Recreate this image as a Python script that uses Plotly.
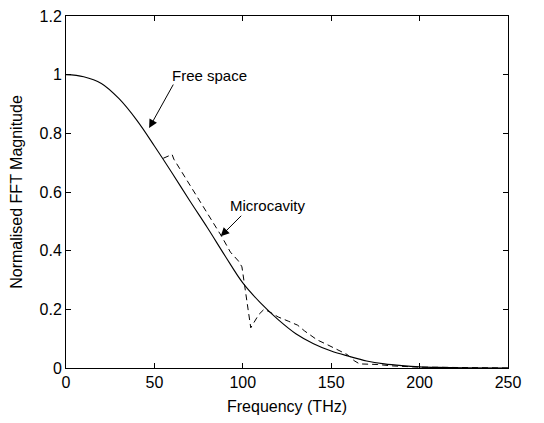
import plotly.graph_objects as go

# Free-space (solid) curve
free_f = [0, 10, 20, 30, 40, 50, 60, 70, 80, 90, 100, 110, 120, 130, 140, 150,
          160, 170, 180, 190, 200, 210, 225, 250]
free_v = [1.0, 0.993, 0.97, 0.918, 0.845, 0.757, 0.665, 0.57, 0.478, 0.382, 0.29,
          0.222, 0.165, 0.117, 0.083, 0.058, 0.04, 0.024, 0.014, 0.008, 0.004,
          0.002, 0.0005, 0.0]

# Microcavity (dashed) curve
cav_f = [55, 60, 61, 70, 80, 88, 93, 97.5, 99.5, 104.5, 109, 112, 115, 120, 126,
         131, 135, 142, 148, 155, 159, 163, 166, 176, 185, 200, 225, 250]
cav_v = [0.715, 0.728, 0.712, 0.625, 0.527, 0.449, 0.395, 0.365, 0.345, 0.137,
         0.182, 0.2, 0.192, 0.174, 0.159, 0.146, 0.126, 0.096, 0.079, 0.057,
         0.046, 0.025, 0.014, 0.012, 0.007, 0.003, 0.001, 0.0]

x_ticks = [0, 50, 100, 150, 200, 250]
y_ticks = [0, 0.2, 0.4, 0.6, 0.8, 1.0, 1.2]
y_tick_labels = ["0", "0.2", "0.4", "0.6", "0.8", "1", "1.2"]

FONT = "Liberation Sans, Arial, sans-serif"

fig = go.Figure()
fig.add_trace(go.Scatter(x=free_f, y=free_v, mode="lines", line=dict(color="black", width=1.1),
                         line_shape="spline", showlegend=False))
fig.add_trace(go.Scatter(x=cav_f, y=cav_v, mode="lines",
                         line=dict(color="black", width=1, dash="6px,4px"), showlegend=False))

# arrows (tail offsets in pixels from the head)
fig.add_annotation(x=47, y=0.818, ax=25, ay=-45, text="", showarrow=True, arrowhead=2,
                   arrowsize=1.7, arrowwidth=1, arrowcolor="black")
fig.add_annotation(x=87.5, y=0.449, ax=22, ay=-22, text="", showarrow=True, arrowhead=2,
                   arrowsize=1.7, arrowwidth=1, arrowcolor="black")

fig.update_layout(
    width=528, height=407,
    margin=dict(l=58, r=28, t=8, b=46.5),
    paper_bgcolor="white", plot_bgcolor="white",
    font=dict(family=FONT, size=16, color="black"),
    xaxis=dict(range=[0, 250], tickvals=x_ticks, ticks="inside", ticklen=5, tickcolor="black",
               showline=True, linecolor="black", linewidth=1, mirror="ticks", showgrid=False,
               zeroline=False, automargin=False, tickfont=dict(size=16),
               ticklabeloverflow="allow",
               title=dict(text="Frequency (THz)", standoff=13, font=dict(size=16))),
    yaxis=dict(range=[0, 1.2], tickvals=y_ticks, ticktext=y_tick_labels, ticks="inside",
               ticklen=5, tickcolor="black", showline=True, linecolor="black", linewidth=1,
               mirror="ticks", showgrid=False, zeroline=False, automargin=False,
               tickfont=dict(size=16), ticklabeloverflow="allow",
               title=dict(text="Normalised FFT Magnitude", standoff=14, font=dict(size=16))),
)

fig.add_annotation(x=(209 - 65) / 1.772, y=(368.5 - 76) / 293.7, text="Free space",
                   showarrow=False, xanchor="center", yanchor="middle", font=dict(size=15))
fig.add_annotation(x=(267 - 65) / 1.772, y=(368.5 - 205.5) / 293.7, text="Microcavity",
                   showarrow=False, xanchor="center", yanchor="middle", font=dict(size=15))

fig.write_html("out.html")
